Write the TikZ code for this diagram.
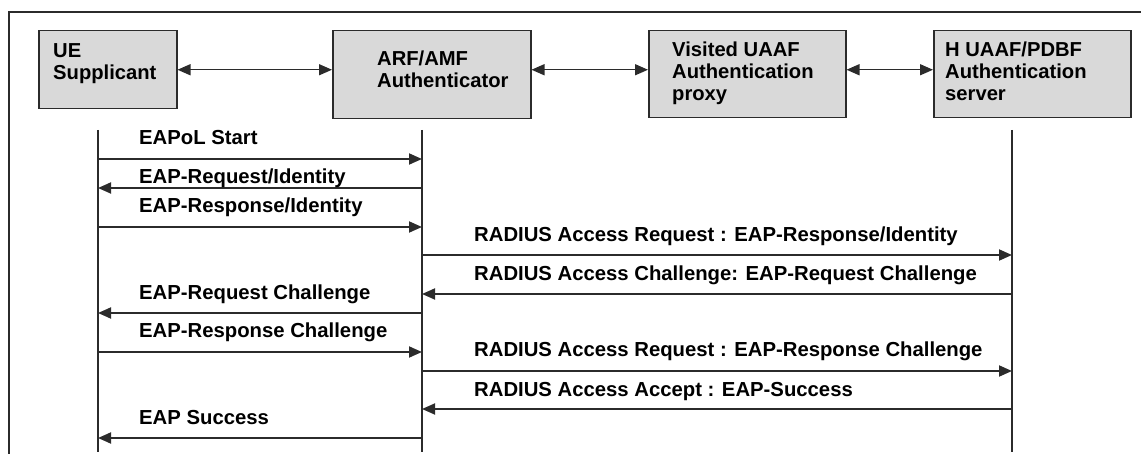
\documentclass[tikz,border=0pt]{standalone}
\usepackage{fontspec}
\setmainfont{Liberation Sans}
\usetikzlibrary{arrows.meta}
\definecolor{boxfill}{HTML}{D9D9D9}
\definecolor{linecol}{HTML}{2B2B2B}
\tikzset{
  entity/.style={draw=linecol, line width=1.5pt, fill=boxfill, inner sep=0pt, anchor=north west},
  boxtext/.style={font=\fontsize{20.2}{22}\selectfont\bfseries, align=left, inner sep=0pt, anchor=north west},
  msgtext/.style={font=\fontsize{20.3}{22}\selectfont\bfseries, inner sep=0pt, anchor=base west},
  link/.style={draw=linecol, line width=1.5pt, {Triangle[length=13pt,width=11pt]}-{Triangle[length=13pt,width=11pt]}},
  msg/.style={draw=linecol, line width=1.8pt, -{Triangle[length=13pt,width=11pt]}},
  life/.style={draw=linecol, line width=1.3pt},
  frame/.style={draw=linecol, line width=1.3pt}
}
\begin{document}
\begin{tikzpicture}[x=1pt,y=-1pt]
\useasboundingbox (0,0) rectangle (1141,454);
% frame
\draw[frame] (9,454) -- (9,12) -- (1141,12);
% entity boxes
\node[entity, minimum width=138pt, minimum height=78pt] (ue) at (38,30) {};
\node[entity, minimum width=198pt, minimum height=88pt] (arf) at (332,30) {};
\node[entity, minimum width=197pt, minimum height=87pt] (vis) at (648,30) {};
\node[entity, minimum width=197pt, minimum height=87pt] (hs) at (933,30) {};
\node[boxtext] (uet) at (53,43) {UE\\Supplicant};
\node[boxtext] (arft) at (377,51) {ARF/AMF\\Authenticator};
\node[boxtext] (vist) at (672,42) {Visited UAAF\\Authentication\\proxy};
\node[boxtext] (hst) at (945,42) {H UAAF/PDBF\\Authentication\\server};
% links between boxes
\draw[link] (ue.east) -- (ue.east -| arf.west);
\draw[link] (arf.east |- ue.east) -- (vis.west |- ue.east);
\draw[link] (vis.east |- ue.east) -- (hs.west |- ue.east);
% lifelines
\coordinate (ueT) at (98,130);
\coordinate (ueB) at (98,452);
\coordinate (arfT) at (422,130);
\coordinate (arfB) at (422,452);
\coordinate (hsT) at (1012,130);
\coordinate (hsB) at (1012,452);
\draw[life] (ueT) -- (ueB);
\draw[life] (arfT) -- (arfB);
\draw[life] (hsT) -- (hsB);
% messages
\draw[msg] (ueT |- 0,159) -- (arfT |- 0,159);
\node[msgtext] (m1) at (139,145) {EAPoL Start};
\draw[msg] (arfT |- 0,188) -- (ueT |- 0,188);
\node[msgtext] (m2) at (139,184) {EAP-Request/Identity};
\draw[msg] (ueT |- 0,227) -- (arfT |- 0,227);
\node[msgtext] (m3) at (139,213) {EAP-Response/Identity};
\draw[msg] (arfT |- 0,255) -- (hsT |- 0,255);
\node[msgtext] (m4) at (474,242) {RADIUS Access Request : EAP-Response/Identity};
\draw[msg] (hsT |- 0,294) -- (arfT |- 0,294);
\node[msgtext] (m5) at (474,281) {RADIUS Access Challenge: EAP-Request Challenge};
\draw[msg] (arfT |- 0,313) -- (ueT |- 0,313);
\node[msgtext] (m6) at (139,300) {EAP-Request Challenge};
\draw[msg] (ueT |- 0,352) -- (arfT |- 0,352);
\node[msgtext] (m7) at (139,338) {EAP-Response Challenge};
\draw[msg] (arfT |- 0,371) -- (hsT |- 0,371);
\node[msgtext] (m8) at (474,357) {RADIUS Access Request : EAP-Response Challenge};
\draw[msg] (hsT |- 0,409) -- (arfT |- 0,409);
\node[msgtext] (m9) at (474,396) {RADIUS Access Accept : EAP-Success};
\draw[msg] (arfT |- 0,438) -- (ueT |- 0,438);
\node[msgtext] (m10) at (139,424) {EAP Success};
\end{tikzpicture}
\end{document}
